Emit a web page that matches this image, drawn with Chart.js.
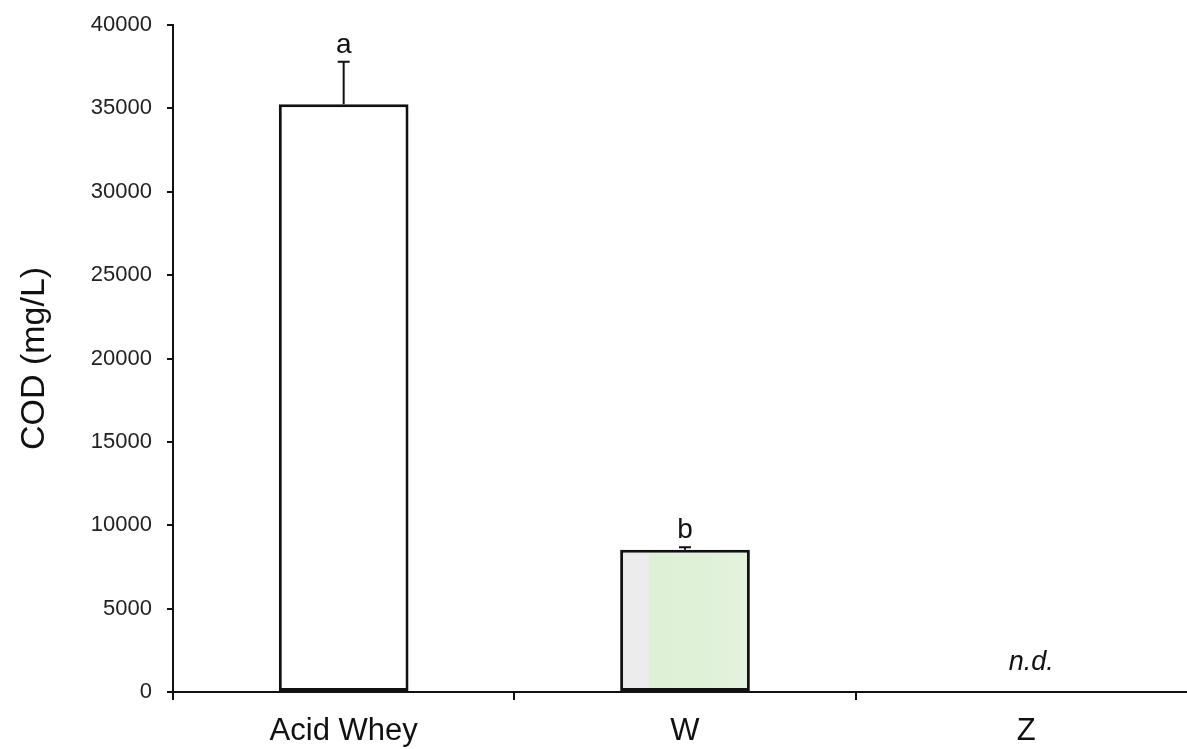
<!DOCTYPE html>
<html>
<head>
<meta charset="utf-8">
<script src="https://cdn.jsdelivr.net/npm/chart.js@4.4.1/dist/chart.umd.min.js"></script>
<style>
  html, body { margin: 0; padding: 0; background: #fff; overflow: hidden; }
  #wrap { width: 1197px; height: 749px; }
</style>
</head>
<body>
<div id="wrap"><canvas id="codChart"></canvas></div>
<script>
const categories = ['Acid Whey', 'W', 'Z'];
const codMeans = [35250, 8530, null];
const codErrors = [2550, 150, null];
const groupLetters = ['a', 'b', 'n.d.'];
const yMin = 0;
const yMax = 40000;
const yStep = 5000;

const FONT = "'Liberation Sans', Arial, sans-serif";

// bar fills: white for acid whey, pale grey/green for W
function barFill(ctx) {
  if (ctx.dataIndex !== 1) return '#ffffff';
  const chart = ctx.chart;
  const xs = chart.scales.x;
  if (!xs || !chart.chartArea) return '#e2f2da';
  const cx = xs.getPixelForValue(1);
  const w = (xs.width / categories.length) * 0.38;
  const g = chart.ctx.createLinearGradient(cx - w / 2, 0, cx + w / 2, 0);
  g.addColorStop(0, '#ececec');
  g.addColorStop(0.22, '#ececec');
  g.addColorStop(0.22, '#ddf0d5');
  g.addColorStop(1, '#e3f2dc');
  return g;
}

const annotations = {
  id: 'annotations',
  afterDatasetsDraw(chart) {
    const { ctx, scales: { x, y } } = chart;
    ctx.save();
    ctx.strokeStyle = '#111';
    ctx.lineWidth = 2;
    ctx.fillStyle = '#111';
    ctx.textAlign = 'center';
    ctx.textBaseline = 'alphabetic';
    categories.forEach((c, i) => {
      const cx = x.getPixelForValue(i);
      if (codMeans[i] == null) {
        ctx.font = 'italic 27px ' + FONT;
        ctx.fillText(groupLetters[i], cx + 5, y.getPixelForValue(0) - 22);
        return;
      }
      const top = y.getPixelForValue(codMeans[i]);
      const errTop = y.getPixelForValue(codMeans[i] + codErrors[i]);
      ctx.beginPath();
      ctx.moveTo(cx, top);
      ctx.lineTo(cx, errTop);
      ctx.moveTo(cx - 6, errTop);
      ctx.lineTo(cx + 6, errTop);
      ctx.stroke();
      ctx.font = '28px ' + FONT;
      ctx.fillText(groupLetters[i], cx, Math.min(errTop, top) - 9);
    });
    ctx.restore();
  }
};

new Chart(document.getElementById('codChart'), {
  type: 'bar',
  data: {
    labels: categories,
    datasets: [{
      data: codMeans,
      backgroundColor: barFill,
      borderColor: '#111',
      borderWidth: 3,
      borderSkipped: false,
      categoryPercentage: 1,
      barPercentage: 0.38
    }]
  },
  options: {
    responsive: true,
    maintainAspectRatio: false,
    animation: false,
    layout: { padding: { top: 25, right: 0, left: 0, bottom: 0 } },
    plugins: {
      legend: { display: false },
      tooltip: { enabled: false }
    },
    scales: {
      x: {
        offset: true,
        grid: { offset: true, drawOnChartArea: false, drawTicks: true, tickLength: 8, color: '#111', lineWidth: 2 },
        border: { display: true, color: '#111', width: 2 },
        ticks: { color: '#111', font: { family: FONT, size: 31 }, padding: 13 },
        afterFit(scale) { scale.height = 57; }
      },
      y: {
        min: yMin,
        max: yMax,
        grid: { drawOnChartArea: false, drawTicks: true, tickLength: 6, color: '#111', lineWidth: 2 },
        border: { display: true, color: '#111', width: 2 },
        ticks: {
          stepSize: yStep,
          color: '#222',
          font: { family: FONT, size: 22 },
          padding: 15,
          callback: (v) => String(v)
        },
        title: {
          display: true,
          text: 'COD (mg/L)',
          color: '#111',
          font: { family: FONT, size: 34 },
          padding: { top: 14, bottom: 0 }
        },
        afterFit(scale) {
          scale.width = 173;
          scale.paddingTop = 0;
          scale.paddingBottom = 0;
        }
      }
    }
  },
  plugins: [annotations]
});
</script>
</body>
</html>
